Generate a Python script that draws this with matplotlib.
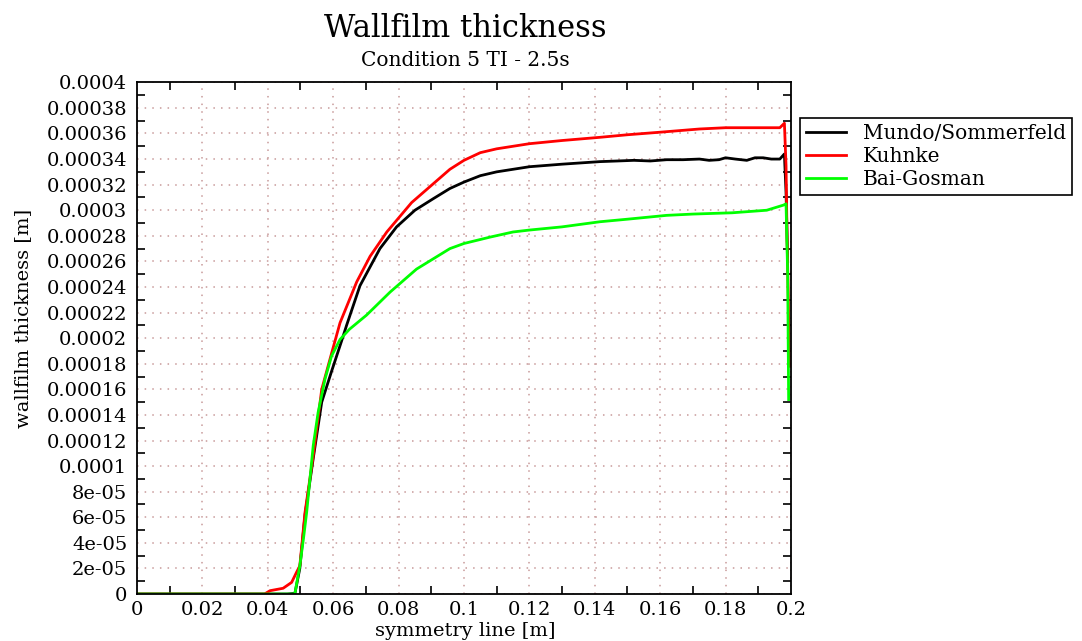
import matplotlib
matplotlib.use("Agg")
import matplotlib.pyplot as plt
from matplotlib.ticker import MultipleLocator, FuncFormatter

plt.rcParams['font.family'] = ['DejaVu Serif']

# datos (x en m, espesor en m)
mundo_x = [0, 0.046, 0.0483, 0.0498, 0.0514, 0.0539, 0.0565, 0.0595, 0.0626, 0.0641, 0.0682,
           0.0743, 0.0794, 0.085, 0.0906, 0.0957, 0.1, 0.105, 0.11, 0.115, 0.12,
           0.125, 0.13, 0.1416, 0.147, 0.152, 0.157, 0.162, 0.167, 0.172, 0.175,
           0.178, 0.18, 0.183, 0.1865, 0.189, 0.1915, 0.194, 0.1966, 0.198, 0.1985, 0.199]
mundo_y = [0, 0, 0.5e-6, 2.0e-5, 6.2e-5, 1.06e-4, 1.50e-4, 1.74e-4, 1.98e-4, 2.10e-4, 2.41e-4,
           2.70e-4, 2.87e-4, 3.00e-4, 3.09e-4, 3.17e-4, 3.22e-4, 3.27e-4, 3.30e-4, 3.32e-4, 3.34e-4,
           3.35e-4, 3.36e-4, 3.38e-4, 3.385e-4, 3.39e-4, 3.385e-4, 3.395e-4, 3.395e-4, 3.40e-4, 3.39e-4,
           3.395e-4, 3.41e-4, 3.40e-4, 3.39e-4, 3.41e-4, 3.41e-4, 3.40e-4, 3.40e-4, 3.44e-4, 3.14e-4, 2.6e-4]

kuhnke_x = [0, 0.039, 0.0407, 0.0447, 0.0473, 0.0488, 0.0498, 0.0514, 0.0539, 0.0565,
            0.0595, 0.0621, 0.0672, 0.0713, 0.0764, 0.084, 0.0957, 0.1, 0.105, 0.11,
            0.115, 0.12, 0.13, 0.1416, 0.15, 0.16, 0.172, 0.18, 0.19, 0.1966,
            0.198, 0.1985, 0.1988, 0.1992, 0.1995]
kuhnke_y = [0, 0, 2.6e-6, 4.5e-6, 9.1e-6, 1.7e-5, 2.2e-5, 6.4e-5, 1.08e-4, 1.6e-4,
            1.88e-4, 2.12e-4, 2.44e-4, 2.64e-4, 2.83e-4, 3.06e-4, 3.32e-4, 3.39e-4, 3.45e-4, 3.48e-4,
            3.50e-4, 3.52e-4, 3.545e-4, 3.57e-4, 3.59e-4, 3.61e-4, 3.635e-4, 3.645e-4, 3.645e-4, 3.645e-4,
            3.68e-4, 3.35e-4, 2.8e-4, 2.3e-4, 1.78e-4]

bai_x = [0, 0.0478, 0.0483, 0.0498, 0.0509, 0.0519, 0.0529, 0.0539, 0.0554, 0.0575,
         0.0595, 0.0621, 0.065, 0.0702, 0.0774, 0.0855, 0.0957, 0.1, 0.108, 0.115,
         0.12, 0.13, 0.1416, 0.15, 0.162, 0.17, 0.182, 0.1926, 0.1977, 0.1985,
         0.199, 0.1993]
bai_y = [0, 0, 0.5e-6, 2.2e-5, 4.3e-5, 6.4e-5, 9.0e-5, 1.16e-4, 1.42e-4, 1.68e-4,
         1.86e-4, 1.99e-4, 2.07e-4, 2.18e-4, 2.36e-4, 2.54e-4, 2.70e-4, 2.74e-4, 2.79e-4, 2.83e-4,
         2.845e-4, 2.87e-4, 2.91e-4, 2.93e-4, 2.96e-4, 2.97e-4, 2.98e-4, 3.00e-4, 3.04e-4, 3.05e-4,
         2.5e-4, 1.52e-4]

labels = ['Mundo/Sommerfeld', 'Kuhnke', 'Bai-Gosman']
colores = ['black', '#ff0000', '#00ff00']

fig = plt.figure(figsize=(10.82, 6.41), dpi=100)
ax = fig.add_axes([0.1266, 0.0733, 0.6044, 0.7983])

ax.plot(mundo_x, mundo_y, color=colores[0], lw=2.0, label=labels[0])
ax.plot(kuhnke_x, kuhnke_y, color=colores[1], lw=2.0, label=labels[1])
ax.plot(bai_x, bai_y, color=colores[2], lw=2.0, label=labels[2])

ax.set_xlim(0, 0.2)
ax.set_ylim(0, 0.0004)

# ejes: etiquetas en pares, marcas solo en los impares
ax.xaxis.set_major_locator(MultipleLocator(0.02))
ax.xaxis.set_minor_locator(MultipleLocator(0.01))
ax.yaxis.set_major_locator(MultipleLocator(0.00002))
ax.yaxis.set_minor_locator(MultipleLocator(0.00001))
fmt = FuncFormatter(lambda v, p: '%g' % round(v, 10))
ax.xaxis.set_major_formatter(fmt)
ax.yaxis.set_major_formatter(fmt)
ax.tick_params(which='major', length=0, labelsize=14, pad=7)
ax.tick_params(which='minor', direction='in', length=6, width=1.2,
               top=True, right=True, bottom=True, left=True)
ax.tick_params(axis='x', which='major', pad=5)

ax.grid(True, which='major', color='#c89a9a', linestyle=(0, (1, 4)), linewidth=1.1)
for s in ax.spines.values():
    s.set_linewidth(1.3)

fig.text(0.4302, 0.956, 'Wallfilm thickness', ha='center', va='center', fontsize=22)
fig.text(0.4302, 0.906, 'Condition 5 TI - 2.5s', ha='center', va='center', fontsize=14.5)
fig.text(0.4298, 0.016, 'symmetry line [m]', ha='center', va='center', fontsize=14)
fig.text(0.021, 0.503, 'wallfilm thickness [m]', ha='center', va='center',
         rotation=90, fontsize=14)

leg = fig.legend(loc='upper left', bbox_to_anchor=(0.739, 0.8164), borderaxespad=0,
                 fontsize=14.5, frameon=True, fancybox=False, framealpha=1,
                 edgecolor='black', handlelength=2.0, handletextpad=0.85,
                 labelspacing=0.2, borderpad=0.3)
leg.get_frame().set_linewidth(1.2)

plt.savefig('out.png', dpi=100)
plt.close()
